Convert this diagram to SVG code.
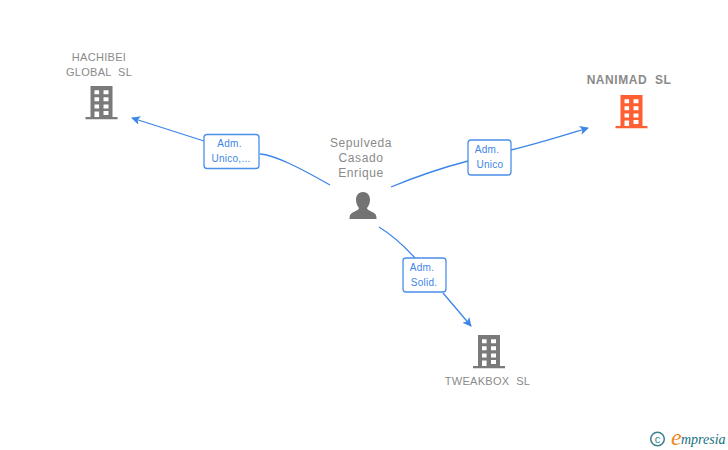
<svg xmlns="http://www.w3.org/2000/svg" width="728" height="450" viewBox="0 0 728 450">
<style>
.lbl{font-family:"Liberation Sans",Arial,sans-serif;font-size:11px;fill:#8a8a8a;text-anchor:middle;letter-spacing:.3px;white-space:pre}
.per{font-size:12px;letter-spacing:.6px}
.bold{font-weight:bold;font-size:12px;letter-spacing:.55px}
.edge{fill:none;stroke:#3d85e8;stroke-width:1.3}
.box{fill:#fff;stroke:#4a8fe8;stroke-width:1.3}
.etx{font-family:"Liberation Sans",Arial,sans-serif;font-size:10px;fill:#3d85e8;text-anchor:middle;letter-spacing:.25px}
</style>
<defs>
<marker id="arrow" viewBox="0 0 10 10" refX="9" refY="5" markerWidth="9" markerHeight="9" markerUnits="userSpaceOnUse" orient="auto"><path d="M0 0L10 5L0 10L2.500 5Z" fill="#3d85e8"/></marker>
<symbol id="bld" viewBox="0 0 32 34" width="32" height="34" overflow="visible">
<path fill-rule="evenodd" d="M5 0H27V31H32V33.200H0V31H5ZM9 4.200V8.200H13.600V4.200ZM18 4.200V8.200H23V4.200ZM9 11.300V15.300H13.600V11.300ZM18 11.300V15.300H23V11.300ZM9 18.500V22.500H13.600V18.500ZM18 18.500V22.500H23V18.500ZM9 25.500V31H13.600V25.500ZM18 25V29H23V25Z"/>
</symbol>
</defs>
<rect width="728" height="450" fill="#fff"/>
<g id="connectors">
<path class="edge" d="M330 185C300 168 275 155 260 154"/>
<path class="edge" d="M204 141L132 118" marker-end="url(#arrow)"/>
<path class="edge" d="M391 187C420 175 445 167 468 161"/>
<path class="edge" d="M511 150C540 143 565 135 588 128" marker-end="url(#arrow)"/>
<path class="edge" d="M379 227C392 235 405 247 415 258"/>
<path class="edge" d="M443 293L471 326" marker-end="url(#arrow)"/>
</g>
<g id="edge-label-1"><rect class="box" x="204" y="134.500" width="55" height="34" rx="3"/><text class="etx" x="229.500" y="147">Adm.</text><text class="etx" x="231" y="162">Unico,...</text></g>
<g id="edge-label-2"><rect class="box" x="468" y="140" width="43" height="35" rx="3"/><text class="etx" x="487" y="153">Adm.</text><text class="etx" x="490" y="168">Unico</text></g>
<g id="edge-label-3"><rect class="box" x="403" y="258" width="43" height="34" rx="3"/><text class="etx" x="422" y="271">Adm.</text><text class="etx" x="424" y="286">Solid.</text></g>
<g id="node-hachibei"><text class="lbl" x="99" y="61">HACHIBEI</text><text class="lbl" x="99" y="76">GLOBAL  SL</text><use href="#bld" x="85.500" y="86" fill="#7a7a7a"/></g>
<g id="node-person"><text class="lbl per" x="361" y="147">Sepulveda</text><text class="lbl per" x="361" y="162">Casado</text><text class="lbl per" x="361" y="177">Enrique</text><path fill="#737373" d="M363 192C358 192 356 196 356 200C356 204 358 206.500 359 208C359 210 355 211 352 213C350 214 349.500 216 349.500 219H376.500C376.500 216 376 214 374 213C371 211 367 210 367 208C368 206.500 370 204 370 200C370 196 368 192 363 192Z"/></g>
<g id="node-nanimad"><text class="lbl bold" x="629" y="84">NANIMAD  SL</text><use href="#bld" x="615.500" y="95" fill="#ff5f33"/></g>
<g id="node-tweakbox"><use href="#bld" x="473" y="335" fill="#7a7a7a"/><text class="lbl" x="487.500" y="385">TWEAKBOX  SL</text></g>
<g id="logo"><circle cx="657.500" cy="439" r="6.800" fill="none" stroke="#3a7f8f" stroke-width="1.500"/><text x="657.500" y="442.500" font-family="Liberation Sans,sans-serif" font-size="11" fill="#3a7f8f" text-anchor="middle">c</text><text x="671" y="445" font-family="Liberation Serif,serif" font-style="italic" font-size="24" fill="#f08a1d">e</text><text x="681" y="444" font-family="Liberation Serif,serif" font-style="italic" font-size="14" fill="#17707f">mpresia</text></g>
</svg>
